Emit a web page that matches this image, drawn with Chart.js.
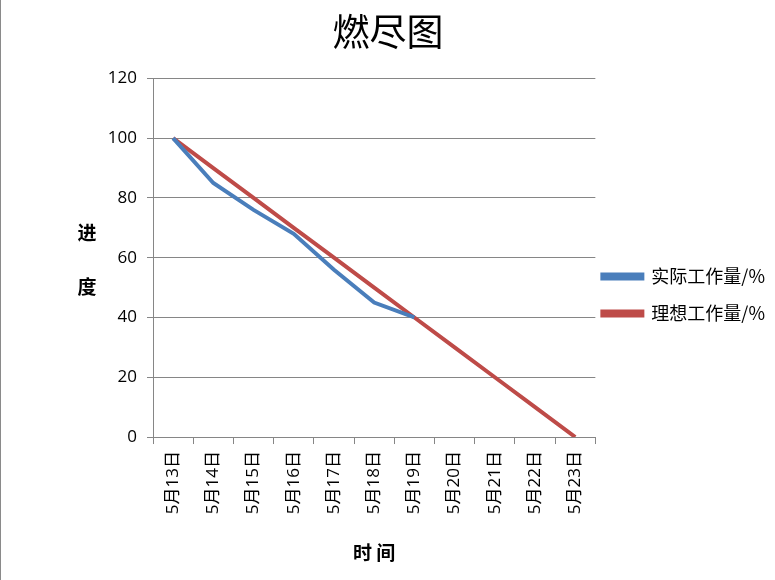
<!DOCTYPE html>
<html>
<head>
<meta charset="utf-8">
<script src="https://cdn.jsdelivr.net/npm/chart.js@4.4.0/dist/chart.umd.min.js"></script>
<style>
  html, body { margin: 0; padding: 0; background: #fff; }
  #wrap { width: 775px; height: 580px; position: relative; box-sizing: border-box; border-left: 1px solid #8a8a8a; }
</style>
</head>
<body>
<div id="wrap"><canvas id="c"></canvas></div>
<script>
const categories = ['5月13日','5月14日','5月15日','5月16日','5月17日','5月18日','5月19日','5月20日','5月21日','5月22日','5月23日'];
const actualValues = [100, 85, 76, 68, 56, 45, 40, null, null, null, null];
const idealValues = [100, 90, 80, 70, 60, 50, 40, 30, 20, 10, 0];
const seriesNames = ['实际工作量/%', '理想工作量/%'];
const chartTitle = '燃尽图';
const xTitle = '时 间';
const yTitleChars = ['进', '度'];

const FONT = "'Open Sans', 'Noto Sans CJK SC', sans-serif";
const CJK = "'Noto Sans CJK SC', sans-serif";

const yTitlePlugin = {
  id: 'yTitle',
  afterDraw(chart) {
    const ctx = chart.ctx;
    const a = chart.chartArea;
    ctx.save();
    ctx.font = "bold 19px " + CJK;
    ctx.fillStyle = '#000';
    ctx.textAlign = 'center';
    ctx.textBaseline = 'middle';
    ctx.fillText(yTitleChars[0], a.left - 66, 233);
    ctx.fillText(yTitleChars[1], a.left - 66, 287);
    ctx.restore();
  }
};

new Chart(document.getElementById('c'), {
  type: 'line',
  data: {
    labels: categories,
    datasets: [
      { label: seriesNames[0], data: actualValues, borderColor: '#4a7ebb', backgroundColor: '#4a7ebb', borderWidth: 4, pointRadius: 0, tension: 0 },
      { label: seriesNames[1], data: idealValues, borderColor: '#be4b48', backgroundColor: '#be4b48', borderWidth: 4, pointRadius: 0, tension: 0 }
    ]
  },
  options: {
    responsive: true,
    maintainAspectRatio: false,
    animation: false,
    layout: { padding: { left: 0, right: 0, top: 0, bottom: 16 } },
    plugins: {
      title: { display: true, text: chartTitle, color: '#000', font: { family: CJK, size: 37, weight: 'normal' }, padding: { top: 10, bottom: 24 } },
      legend: {
        position: 'right',
        align: 'center',
        title: { display: true, text: ' ', font: { size: 10, lineHeight: 1.2 }, padding: { top: 13, bottom: 13 } },
        labels: {
          boxWidth: 40, boxHeight: 4, padding: 7, color: '#000',
          font: { family: CJK, size: 18, lineHeight: 1.67 },
          generateLabels(chart) {
            const items = Chart.defaults.plugins.legend.labels.generateLabels(chart);
            items.forEach(it => { it.text = [it.text]; });
            return items;
          }
        }
      },
      tooltip: { enabled: false }
    },
    scales: {
      x: {
        offset: true,
        grid: { display: true, drawOnChartArea: false, offset: true, color: '#868686', tickLength: 7 },
        border: { color: '#868686' },
        ticks: { minRotation: 90, maxRotation: 90, color: '#000', font: { family: FONT, size: 17 }, padding: 7 },
        title: { display: true, text: xTitle, color: '#000', font: { family: CJK, size: 19, weight: 'bold' }, padding: { top: 20, bottom: 0 } }
      },
      y: {
        min: 0, max: 120,
        afterFit(scale) { scale.width = 152; },
        ticks: { stepSize: 20, color: '#000', font: { family: FONT, size: 17 }, padding: 10 },
        grid: { color: '#868686', tickLength: 6 },
        border: { color: '#868686' }
      }
    }
  },
  plugins: [yTitlePlugin]
});
</script>
</body>
</html>
